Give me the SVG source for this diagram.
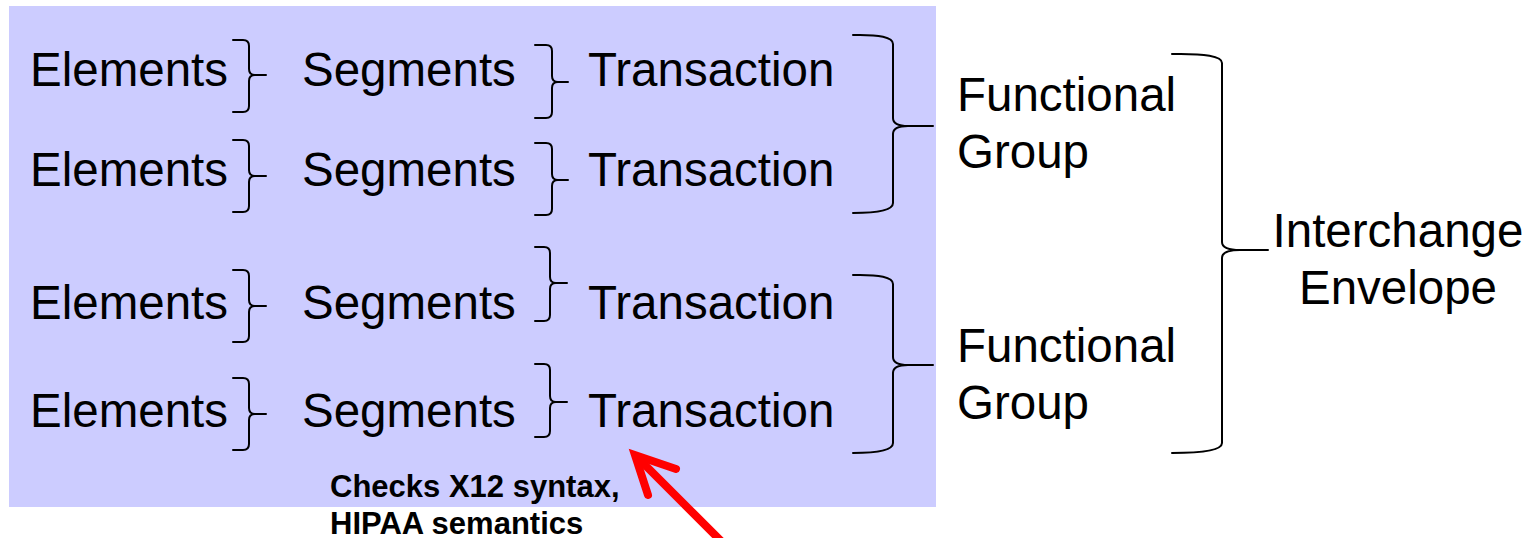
<svg xmlns="http://www.w3.org/2000/svg" width="1533" height="538" viewBox="0 0 1533 538">
<style>
.t{font-family:"Liberation Sans",Arial,sans-serif;font-size:47.5px;fill:#000}
.b{font-family:"Liberation Sans",Arial,sans-serif;font-size:31px;font-weight:bold;fill:#000}
.br{fill:none;stroke:#000;stroke-width:2;stroke-linecap:round;stroke-linejoin:round}
.ar{fill:none;stroke:#FF0000;stroke-width:8;stroke-linecap:round}
</style>
<rect x="9" y="6" width="927" height="501" fill="#CCCCFF"/>
<g id="row1">
<text class="t" x="30" y="86">Elements</text>
<text class="t" x="302" y="86">Segments</text>
<text class="t" x="588" y="86">Transaction</text>
</g>
<g id="row2">
<text class="t" x="30" y="186">Elements</text>
<text class="t" x="302" y="186">Segments</text>
<text class="t" x="588" y="186">Transaction</text>
</g>
<g id="row3">
<text class="t" x="30" y="319">Elements</text>
<text class="t" x="302" y="319">Segments</text>
<text class="t" x="588" y="319">Transaction</text>
</g>
<g id="row4">
<text class="t" x="30" y="427">Elements</text>
<text class="t" x="302" y="427">Segments</text>
<text class="t" x="588" y="427">Transaction</text>
</g>
<g id="fg1"><text class="t" x="957" y="111">Functional</text><text class="t" x="957" y="168">Group</text></g>
<g id="fg2"><text class="t" x="957" y="362">Functional</text><text class="t" x="957" y="419">Group</text></g>
<g id="interchange"><text class="t" x="1398" y="247" text-anchor="middle">Interchange</text><text class="t" x="1398" y="304" text-anchor="middle">Envelope</text></g>
<g id="note"><text class="b" x="330" y="497">Checks X12 syntax,</text><text class="b" x="330" y="534">HIPAA semantics</text></g>
<g id="connectors">
<path class="br" d="M233 40 L243 40 Q249 40 249 46 L249 69 Q249 75 255 75 L266 75 M255 75 Q249 75 249 81 L249 106 Q249 112 243 112 L233 112"/>
<path class="br" d="M233 140 L243 140 Q249 140 249 146 L249 170 Q249 176 255 176 L266 176 M255 176 Q249 176 249 182 L249 206 Q249 212 243 212 L233 212"/>
<path class="br" d="M233 270 L243 270 Q249 270 249 276 L249 300 Q249 306 255 306 L266 306 M255 306 Q249 306 249 312 L249 336 Q249 342 243 342 L233 342"/>
<path class="br" d="M233 378 L243 378 Q249 378 249 384 L249 408 Q249 414 255 414 L266 414 M255 414 Q249 414 249 420 L249 444 Q249 450 243 450 L233 450"/>
<path class="br" d="M535 45 L546 45 Q552 45 552 51 L552 76 Q552 82 558 82 L568 82 M558 82 Q552 82 552 88 L552 112 Q552 118 546 118 L535 118"/>
<path class="br" d="M535 143 L546 143 Q552 143 552 149 L552 174 Q552 180 558 180 L568 180 M558 180 Q552 180 552 186 L552 209 Q552 215 546 215 L535 215"/>
<path class="br" d="M535 247 L544 247 Q550 247 550 253 L550 277 Q550 283 556 283 L567 283 M556 283 Q550 283 550 289 L550 315 Q550 321 544 321 L535 321"/>
<path class="br" d="M535 364 L544 364 Q550 364 550 370 L550 396 Q550 402 556 402 L567 402 M556 402 Q550 402 550 408 L550 431 Q550 437 544 437 L535 437"/>
<path class="br" d="M853 35 Q893 34 893 44 L893 118 Q893 126 908 126 L933 126 M908 126 Q893 126 893 134 L893 203 Q893 213 853 213"/>
<path class="br" d="M853 275 Q893 274 893 284 L893 357 Q893 365 908 365 L933 365 M908 365 Q893 365 893 373 L893 443 Q893 453 853 453"/>
<path class="br" d="M1172 54 Q1222 53 1222 63 L1222 242 Q1222 250 1240 250 L1268 250 M1240 250 Q1222 250 1222 258 L1222 443 Q1222 453 1172 453"/>
<line class="ar" x1="745" y1="565" x2="637" y2="457"/>
<polyline class="ar" points="648,495 635,455 676,469" stroke-linejoin="miter"/>
</g>
</svg>
